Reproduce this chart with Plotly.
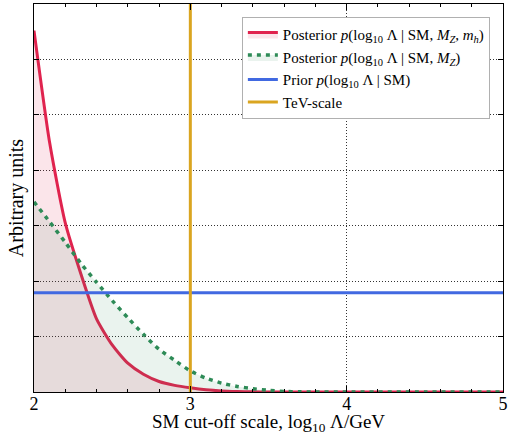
import plotly.graph_objects as go

# Data
log_lambda = [2.0, 2.1, 2.2, 2.3, 2.4, 2.5, 2.6, 2.7, 2.8, 2.9, 3.0, 3.1, 3.2, 3.3,
              3.4, 3.5, 3.6, 3.7, 3.8, 4.0, 4.5, 5.0]
post_mz_mh = [6.52, 4.5, 3.05, 2.13, 1.32, 0.85, 0.52, 0.32, 0.19, 0.12, 0.075, 0.04,
              0.02, 0.01, 0.004, 0.0, 0.0, 0.0, 0.0, 0.0, 0.0, 0.0]
post_mz = [3.43, 3.07, 2.70, 2.32, 1.98, 1.65, 1.34, 1.04, 0.77, 0.57, 0.38, 0.25,
           0.16, 0.10, 0.06, 0.03, 0.01, 0.003, 0.0, 0.0, 0.0, 0.0]
prior_x = [2.0, 5.0]
prior_y = [1.79, 1.79]
tev_scale = 3.0
y_range = [0, 7]
x_ticks = [2, 3, 4, 5]

FONT = "Liberation Serif"

fig = go.Figure()
fig.add_trace(go.Scatter(
    x=log_lambda, y=post_mz_mh, mode="lines", fill="tozeroy",
    fillcolor="rgba(220,20,60,0.11)",
    line=dict(color="#e0234e", width=3, shape="spline", smoothing=0.6),
    name="Posterior <i>p</i>(log<sub>10</sub> Λ | SM, <i>M<sub>Z</sub></i>, <i>m<sub>h</sub></i>)"))
fig.add_trace(go.Scatter(
    x=log_lambda, y=post_mz, mode="lines", fill="tozeroy",
    fillcolor="rgba(46,139,87,0.10)",
    line=dict(color="#2e8b57", width=3.5, dash="4px,5px", shape="spline", smoothing=0.6),
    name="Posterior <i>p</i>(log<sub>10</sub> Λ | SM, <i>M<sub>Z</sub></i>)"))
fig.add_trace(go.Scatter(
    x=prior_x, y=prior_y, mode="lines",
    line=dict(color="#4169e1", width=3),
    name="Prior <i>p</i>(log<sub>10</sub> Λ | SM)"))
fig.add_trace(go.Scatter(
    x=[tev_scale, tev_scale], y=y_range, mode="lines",
    line=dict(color="#daa520", width=3),
    name="TeV-scale"))

fig.update_layout(
    width=509, height=434,
    margin=dict(l=34, r=6, t=4, b=42),
    paper_bgcolor="white", plot_bgcolor="white",
    font=dict(family=FONT, size=17, color="black"),
    legend=dict(x=0.972, xanchor="right", y=0.966, yanchor="top",
                bgcolor="white", bordercolor="#b0b0b0", borderwidth=1,
                font=dict(family=FONT, size=15), tracegroupgap=0,
                itemwidth=30),
    annotations=[dict(
        text="SM cut-off scale, log<sub>10</sub> Λ/GeV",
        xref="paper", yref="paper", x=0.5, y=-0.081,
        xanchor="center", yanchor="middle", showarrow=False,
        font=dict(family=FONT, size=19, color="black"))],
)
fig.update_xaxes(
    range=[2, 5], tickvals=x_ticks, ticktext=[str(t) for t in x_ticks],
    showgrid=True, gridcolor="#333", griddash="1px,2px", gridwidth=1,
    showline=True, linecolor="black", linewidth=1, mirror="allticks",
    ticks="inside", ticklen=6, tickcolor="black",
    minor=dict(dtick=0.2, ticks="inside", ticklen=3, tickcolor="black", showgrid=False),
    zeroline=False, automargin=False,
    tickfont=dict(size=18), ticklabelstandoff=-5,
)
fig.update_yaxes(
    range=y_range, dtick=1, showticklabels=False,
    showgrid=True, gridcolor="#333", griddash="1px,2px", gridwidth=1,
    showline=True, linecolor="black", linewidth=1, mirror="allticks",
    ticks="inside", ticklen=5, tickcolor="black", zeroline=False, automargin=False,
    title=dict(text="Arbitrary units", standoff=4, font=dict(size=20)),
)

fig.write_html("out.html")
